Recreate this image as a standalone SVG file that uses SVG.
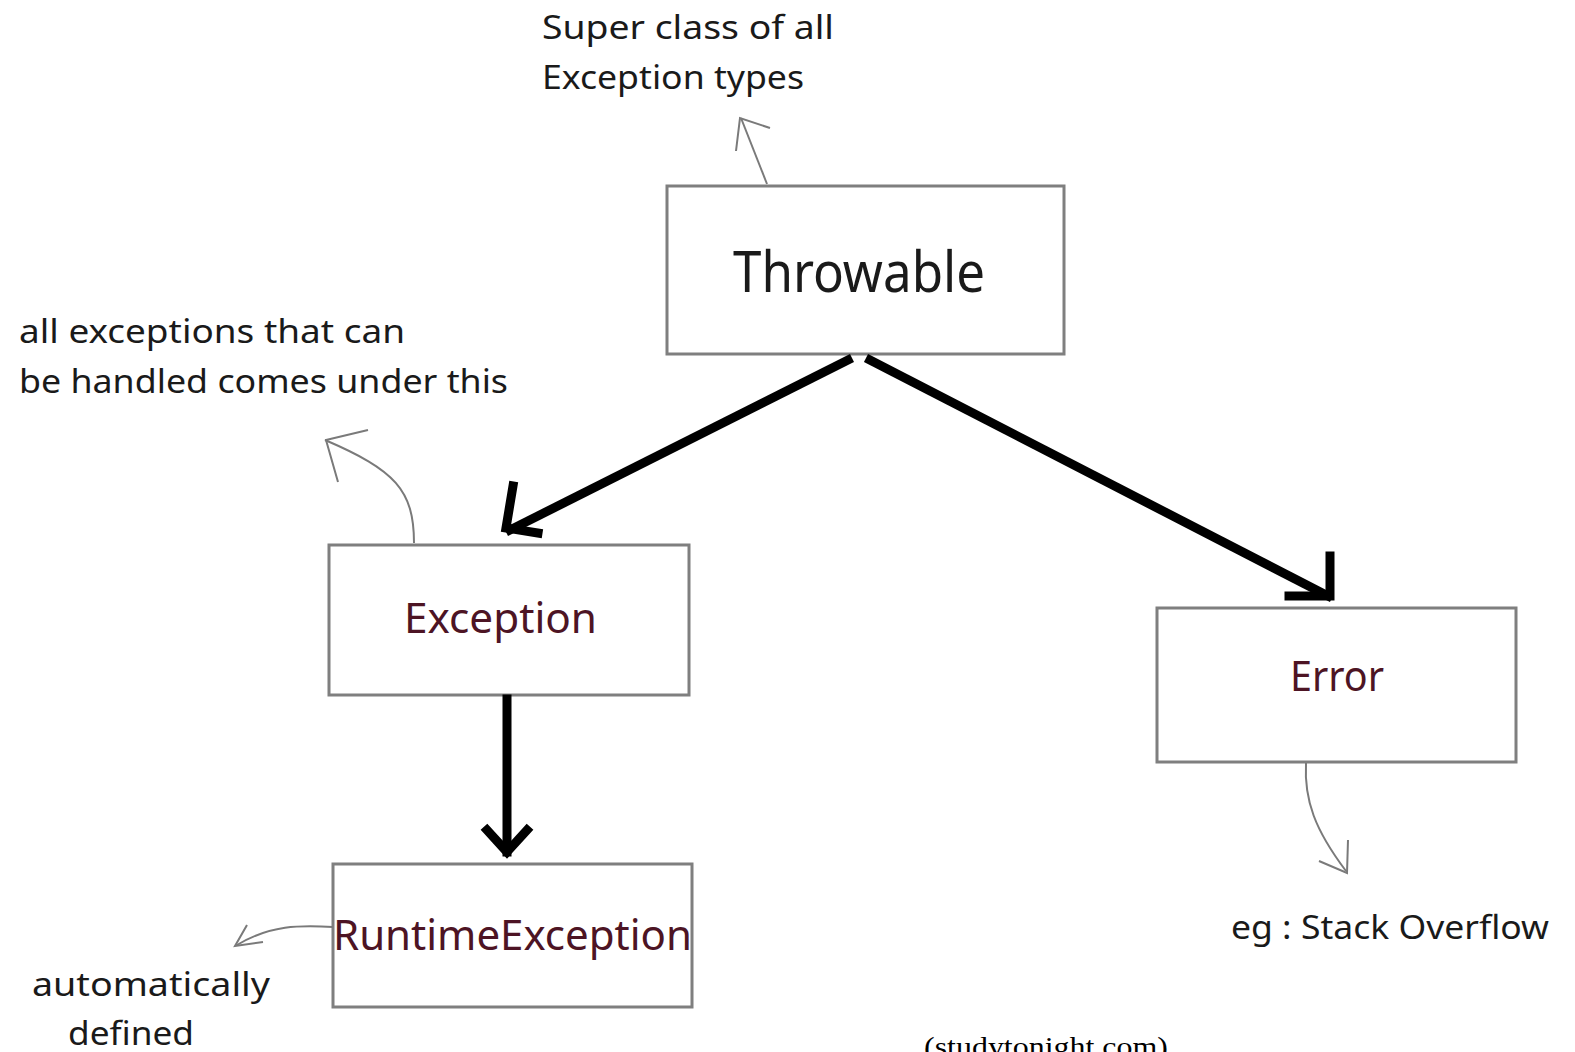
<svg xmlns="http://www.w3.org/2000/svg" width="1575" height="1052" viewBox="0 0 1575 1052">
<style>
.box{fill:#fff;stroke:#7f7f7f;stroke-width:3}
.t{font-family:"Noto Sans","Open Sans",sans-serif;fill:#1a1a1a}
.r{fill:#4d1424}
.thick{fill:none;stroke:#000;stroke-width:9;stroke-linecap:square}
.thin{fill:none;stroke:#7a7a7a;stroke-width:2}
.note{font-family:"Noto Sans","Open Sans",sans-serif;font-size:32px;fill:#1a1a1a}
</style>
<rect width="1575" height="1052" fill="#fff"/>
<g id="throwable">
<rect class="box" x="667" y="186" width="397" height="168"/>
<text class="t" x="733" y="292" font-size="56" textLength="252" lengthAdjust="spacingAndGlyphs">Throwable</text>
</g>
<g id="exception">
<rect class="box" x="329" y="545" width="360" height="150"/>
<text class="t r" x="404" y="633" font-size="42" textLength="193" lengthAdjust="spacingAndGlyphs">Exception</text>
</g>
<g id="runtimeexception">
<rect class="box" x="333" y="864" width="359" height="143"/>
<text class="t r" x="333" y="950" font-size="42" textLength="359" lengthAdjust="spacingAndGlyphs">RuntimeException</text>
</g>
<g id="error">
<rect class="box" x="1157" y="608" width="359" height="154"/>
<text class="t r" x="1290" y="691" font-size="42" textLength="94" lengthAdjust="spacingAndGlyphs">Error</text>
</g>
<g id="notes">
<text class="note" x="542" y="39" textLength="292" lengthAdjust="spacingAndGlyphs">Super class of all</text>
<text class="note" x="542" y="89" textLength="262" lengthAdjust="spacingAndGlyphs">Exception types</text>
<text class="note" x="19" y="343" textLength="386" lengthAdjust="spacingAndGlyphs">all exceptions that can</text>
<text class="note" x="19" y="393" textLength="489" lengthAdjust="spacingAndGlyphs">be handled comes under this</text>
<text class="note" x="32" y="996" textLength="238" lengthAdjust="spacingAndGlyphs">automatically</text>
<text class="note" x="68" y="1045" textLength="126" lengthAdjust="spacingAndGlyphs">defined</text>
<text class="note" x="1231" y="939" textLength="318" lengthAdjust="spacingAndGlyphs">eg : Stack Overflow</text>
<text x="924" y="1056" font-family="Liberation Serif,serif" font-size="28" fill="#000" textLength="244" lengthAdjust="spacingAndGlyphs">(studytonight.com)</text>
</g>
<g id="connectors">
<path class="thick" d="M848 360 L510 530"/>
<path class="thick" d="M513 486 L506 528 L538 533"/>
<path class="thick" d="M870 360 L1328 596"/>
<path class="thick" d="M1330 556 L1330 596 L1289 596"/>
<path class="thick" d="M507 699 L507 852"/>
<path class="thick" d="M487 830 L507 852 L527 830"/>
<path class="thin" d="M767 184 L741 118"/>
<path class="thin" d="M736 151 L740 118 L770 128"/>
<path class="thin" d="M414 543 C414 490 395 470 325 440"/>
<path class="thin" d="M338 482 L326 440 L368 430"/>
<path class="thin" d="M333 927 C300 925 270 925 237 945"/>
<path class="thin" d="M247 925 L235 946 L263 942"/>
<path class="thin" d="M1306 763 C1304 800 1315 830 1346 871"/>
<path class="thin" d="M1348 840 L1347 873 L1319 861"/>
</g>
</svg>
